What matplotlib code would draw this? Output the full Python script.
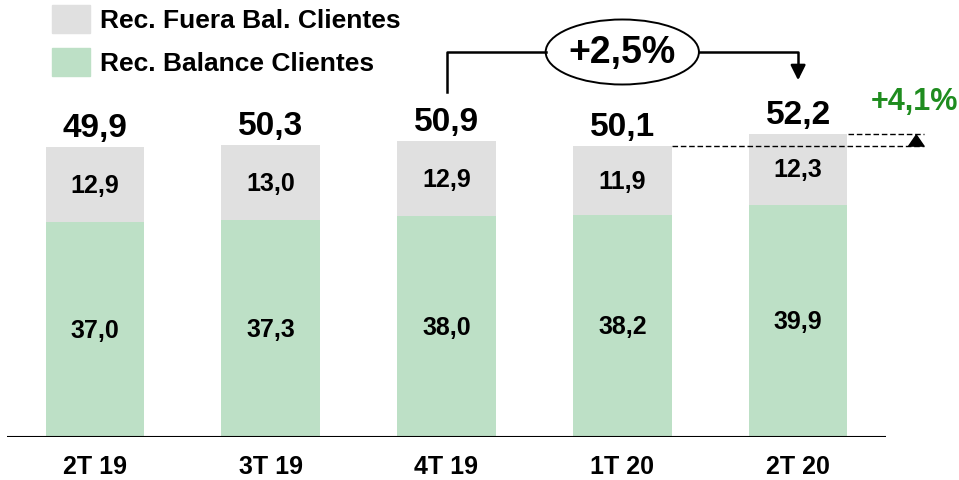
import matplotlib
matplotlib.use("Agg")
import matplotlib.pyplot as plt
from matplotlib.patches import Ellipse, Rectangle

# Data
quarters = ["2T 19", "3T 19", "4T 19", "1T 20", "2T 20"]
balance = [37.0, 37.3, 38.0, 38.2, 39.9]
fuera_bal = [12.9, 13.0, 12.9, 11.9, 12.3]
totals = [49.9, 50.3, 50.9, 50.1, 52.2]
growth_year = "+2,5%"
growth_quarter = "+4,1%"

GREEN = "#bde0c6"
GREY = "#e0e0e0"
plt.rcParams["font.family"] = ["Liberation Sans", "DejaVu Sans"]


def fmt(v):
    return f"{v:.1f}".replace(".", ",")


fig = plt.figure(figsize=(9.59, 4.81), dpi=100)
# axes spans baseline (y=438px) to top of figure, x from 7px to 886px
ax = fig.add_axes([7 / 959, 43 / 481, 879 / 959, 438 / 481])
ax.set_xlim(-0.5, 4.5)
ax.set_ylim(0, 75.4)
ax.axis("off")

x = list(range(len(quarters)))
ax.bar(x, balance, width=0.56, color=GREEN)
ax.bar(x, fuera_bal, width=0.56, bottom=balance, color=GREY)
ax.axhline(0, color="black", lw=1.5)

for i in x:
    ax.text(i, balance[i] / 2, fmt(balance[i]), ha="center", va="center",
            fontsize=18, fontweight="bold")
    ax.text(i, balance[i] + fuera_bal[i] / 2, fmt(fuera_bal[i]), ha="center",
            va="center", fontsize=18, fontweight="bold")
    ax.text(i, totals[i] + 3.4, fmt(totals[i]), ha="center", va="center",
            fontsize=24, fontweight="bold")
    ax.text(i, -5.0, quarters[i], ha="center", va="center", fontsize=18,
            fontweight="bold", clip_on=False)

# legend
fig.patches.append(Rectangle((52 / 959, 1 - 34 / 481), 38 / 959, 28 / 481,
                             transform=fig.transFigure, color=GREY))
fig.patches.append(Rectangle((52 / 959, 1 - 77 / 481), 38 / 959, 28 / 481,
                             transform=fig.transFigure, color=GREEN))
fig.text(100 / 959, 1 - 21 / 481, "Rec. Fuera Bal. Clientes", fontsize=19,
         fontweight="bold", va="center")
fig.text(100 / 959, 1 - 64 / 481, "Rec. Balance Clientes", fontsize=19,
         fontweight="bold", va="center")

# bracket 4T19 -> 2T20
ppu = 438 / 75.4  # pixels per data unit
def yv(py):
    return (438 - py) / ppu

def xv(px):
    return (px - 95) / 175.5

y_br = yv(53)
ax.plot([xv(446), xv(446), xv(545)], [yv(93), y_br, y_br], color="black",
        lw=1.8, clip_on=False)
ax.plot([xv(698), 4, 4], [y_br, y_br, yv(72)], color="black", lw=1.8,
        clip_on=False)
ax.annotate("", xy=(4, yv(84)), xytext=(4, yv(68)),
            arrowprops=dict(arrowstyle="-|>,head_length=0.9,head_width=0.45",
                            color="black", lw=1.8), annotation_clip=False)
ax.add_patch(Ellipse((xv(621.5), y_br), 153 / 175.5, 65 / ppu,
                     facecolor="white", edgecolor="black", lw=1.4,
                     clip_on=False))
ax.text(xv(621.5), y_br, growth_year, ha="center", va="center", fontsize=27,
        fontweight="bold")

# quarter growth marker
ax.plot([xv(671), xv(923)], [totals[3], totals[3]], color="black", lw=1,
        ls=(0, (4, 2)), clip_on=False)
ax.plot([xv(847), xv(923)], [totals[4], totals[4]], color="black", lw=1,
        ls=(0, (4, 2)), clip_on=False)
ax.annotate("", xy=(xv(915), totals[4]), xytext=(xv(915), totals[3]),
            arrowprops=dict(arrowstyle="-|>,head_length=0.8,head_width=0.55",
                            color="black", lw=1, shrinkA=0, shrinkB=0),
            annotation_clip=False)
ax.text(xv(913), yv(102), growth_quarter, ha="center", va="center",
        fontsize=22, fontweight="bold", color="#1f8c1f", clip_on=False)

fig.savefig("out.png", dpi=100)
